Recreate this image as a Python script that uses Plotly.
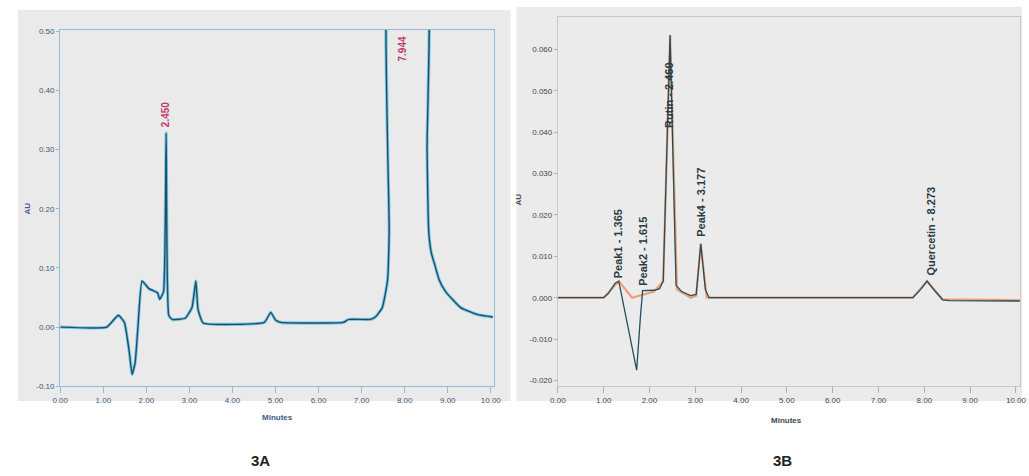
import plotly.graph_objects as go

# ---------------- Panel 3A data (minutes, AU) ----------------
a_time = [0.00, 1.08, 1.35, 1.49, 1.60, 1.67, 1.74, 1.80, 1.90, 2.06, 2.26, 2.31, 2.40, 2.46,
          2.52, 2.60, 2.90, 3.06, 3.15, 3.20, 3.32, 4.74, 4.89, 5.00, 5.12, 6.57, 6.70,
          7.20, 7.32, 7.48, 7.60, 7.64, 7.68, 8.48, 8.52, 8.56, 8.62, 8.70, 8.80, 8.95,
          9.30, 9.70, 10.05]
a_value = [0.000, 0.000, 0.020, 0.008, -0.040, -0.080, -0.060, -0.005, 0.078, 0.065, 0.058,
           0.047, 0.060, 0.328, 0.020, 0.013, 0.015, 0.033, 0.078, 0.030, 0.007, 0.008,
           0.025, 0.012, 0.008, 0.008, 0.013, 0.013, 0.017, 0.033, 0.078, 0.160, 0.700,
           0.700, 0.300, 0.160, 0.125, 0.105, 0.080, 0.060, 0.033, 0.021, 0.017]
a_peak_times = [2.45, 7.94]
a_peak_labels = ["2.450", "7.944"]
a_label_bottom = [0.335, 0.445]

a_xticks = [0, 1, 2, 3, 4, 5, 6, 7, 8, 9, 10]
a_xtick_text = ["0.00", "1.00", "2.00", "3.00", "4.00", "5.00", "6.00", "7.00", "8.00", "9.00", "10.00"]
a_yticks = [-0.10, 0.00, 0.10, 0.20, 0.30, 0.40, 0.50]
a_ytick_text = ["-0.10", "0.00", "0.10", "0.20", "0.30", "0.40", "0.50"]

# ---------------- Panel 3B data (minutes, AU) ----------------
b_time = [0.00, 1.00, 1.10, 1.25, 1.33, 1.72, 1.80, 1.85, 2.10, 2.22, 2.30, 2.45, 2.58,
          2.70, 2.90, 3.02, 3.12, 3.22, 3.30, 7.75, 7.92, 8.06, 8.22, 8.40, 8.55, 10.10]
b_value = [0.0000, 0.0000, 0.0010, 0.0035, 0.0040, -0.0175, -0.0050, 0.0017, 0.0018, 0.0022,
           0.0040, 0.0635, 0.0030, 0.0015, 0.0005, 0.0008, 0.0130, 0.0020, 0.0000, 0.0000,
           0.0020, 0.0040, 0.0018, -0.0005, -0.0007, -0.0008]
b2_time = [0.00, 1.00, 1.33, 1.62, 2.10, 2.30, 2.45, 2.60, 2.90, 3.02, 3.12, 3.25, 7.75,
           8.06, 8.40, 10.10]
b2_value = [0.0000, 0.0000, 0.0040, 0.0000, 0.0015, 0.0040, 0.0635, 0.0020, 0.0000, 0.0005,
            0.0130, 0.0000, 0.0000, 0.0040, -0.0004, -0.0006]
b_peak_times = [1.33, 1.87, 2.41, 3.12, 8.15]
b_peak_labels = ["Peak1 - 1.365", "Peak2 - 1.615", "Rutin - 2.460", "Peak4 - 3.177", "Quercetin - 8.273"]
b_label_bottom = [0.0043, 0.0024, 0.0405, 0.0143, 0.0048]

b_xticks = [0, 1, 2, 3, 4, 5, 6, 7, 8, 9, 10]
b_xtick_text = ["0.00", "1.00", "2.00", "3.00", "4.00", "5.00", "6.00", "7.00", "8.00", "9.00", "10.00"]
b_yticks = [-0.02, -0.01, 0.00, 0.01, 0.02, 0.03, 0.04, 0.05, 0.06]
b_ytick_text = ["-0.020", "-0.010", "0.000", "0.010", "0.020", "0.030", "0.040", "0.050", "0.060"]

W, H = 1029, 476
def px(x):
    return x / W
def py(y):
    return 1 - y / H

fig = go.Figure()

# Panel A traces (double stroke like scanned print)
fig.add_trace(go.Scatter(x=a_time, y=a_value, mode="lines", line=dict(color="#7cc8e8", width=3.2, shape="spline", smoothing=0.4),
                         xaxis="x", yaxis="y", showlegend=False, hoverinfo="skip"))
fig.add_trace(go.Scatter(x=a_time, y=a_value, mode="lines", line=dict(color="#1d4f66", width=1.4, shape="spline", smoothing=0.4),
                         xaxis="x", yaxis="y", showlegend=False))

# Panel B traces
fig.add_trace(go.Scatter(x=b2_time, y=b2_value, mode="lines", line=dict(color="#f0a070", width=2.2),
                         xaxis="x2", yaxis="y2", showlegend=False))
fig.add_trace(go.Scatter(x=b_time, y=b_value, mode="lines", line=dict(color="#244e5e", width=1.3),
                         xaxis="x2", yaxis="y2", showlegend=False))

annotations = []
for t, lab, yb in zip(a_peak_times, a_peak_labels, a_label_bottom):
    annotations.append(dict(x=t, y=yb, xref="x", yref="y", text="<b>" + lab + "</b>", textangle=-90, showarrow=False,
                            xanchor="center", yanchor="bottom",
                            font=dict(family="Liberation Sans", size=10, color="#c03a6a")))
for t, lab, yb in zip(b_peak_times, b_peak_labels, b_label_bottom):
    annotations.append(dict(x=t, y=yb, xref="x2", yref="y2", text="<b>" + lab + "</b>", textangle=-90, showarrow=False,
                            xanchor="center", yanchor="bottom",
                            font=dict(family="Liberation Sans", size=11, color="#2a3a40")))

def paper_text(x, y, text, size, color, angle=0):
    return dict(x=px(x), y=py(y), xref="paper", yref="paper", text=text, textangle=angle, showarrow=False,
                xanchor="center", yanchor="middle",
                font=dict(family="Liberation Sans", size=size, color=color))

annotations += [
    paper_text(273, 422, "<b>Minutes</b>", 8, "#3a5a80"),
    paper_text(790, 425, "<b>Minutes</b>", 8, "#3a4a50"),
    paper_text(20, 210, "<b>AU</b>", 8, "#3a5a80", -90),
    paper_text(518, 200, "<b>AU</b>", 8, "#3a4a50", -90),
    paper_text(256, 465, "<b>3A</b>", 15, "#222222"),
    paper_text(786, 465, "<b>3B</b>", 15, "#222222"),
]

shapes = [
    dict(type="rect", xref="paper", yref="paper", x0=px(10), x1=px(510), y0=py(405), y1=py(8),
         fillcolor="#eaeaea", line=dict(width=0), layer="below"),
    dict(type="rect", xref="paper", yref="paper", x0=px(516), x1=px(1029), y0=py(405), y1=py(5),
         fillcolor="#ebebeb", line=dict(width=0), layer="below"),
]

tickfontA = dict(family="Liberation Sans", size=8, color="#3a5a80")
tickfontB = dict(family="Liberation Sans", size=8, color="#3a4a50")

fig.update_layout(
    width=W, height=H, margin=dict(l=0, r=0, t=0, b=0),
    paper_bgcolor="white", plot_bgcolor="#e6e6e6",
    shapes=shapes, annotations=annotations,
    xaxis=dict(domain=[px(53), px(493)], range=[0, 10.07], tickvals=a_xticks, ticktext=a_xtick_text,
               tickfont=tickfontA, showgrid=False, zeroline=False, showline=True, mirror=True,
               linecolor="#8fbedc", linewidth=1.2, ticks="outside", ticklen=6, tickcolor="#8fbedc",
               anchor="y", fixedrange=True),
    yaxis=dict(domain=[py(390), py(28)], range=[-0.10, 0.503], tickvals=a_yticks, ticktext=a_ytick_text,
               tickfont=tickfontA, showgrid=False, zeroline=False, showline=True, mirror=True,
               linecolor="#8fbedc", linewidth=1.2, ticks="outside", ticklen=3, tickcolor="#8fbedc",
               anchor="x", fixedrange=True),
    xaxis2=dict(domain=[px(558), px(1027)], range=[0, 10.09], tickvals=b_xticks, ticktext=b_xtick_text,
                tickfont=tickfontB, showgrid=False, zeroline=False, showline=True, mirror=True,
                linecolor="#c8c8c8", linewidth=1, ticks="outside", ticklen=6, tickcolor="#b0b0b0",
                anchor="y2", fixedrange=True),
    yaxis2=dict(domain=[py(390), py(15)], range=[-0.0214, 0.0679], tickvals=b_yticks, ticktext=b_ytick_text,
                tickfont=tickfontB, showgrid=False, zeroline=False, showline=True, mirror=True,
                linecolor="#c8c8c8", linewidth=1, ticks="outside", ticklen=3, tickcolor="#b0b0b0",
                anchor="x2", fixedrange=True),
)

fig.write_html("out.html")
